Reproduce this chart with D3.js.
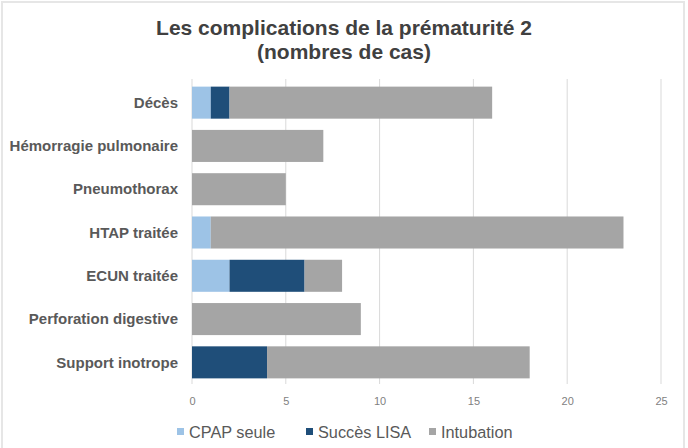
<!DOCTYPE html>
<html>
<head>
<meta charset="utf-8">
<script src="https://cdn.jsdelivr.net/npm/d3@7"></script>
<style>
  body { margin: 0; background: #fff; }
  svg { display: block; font-family: "Liberation Sans", Arial, sans-serif; }
  .title { font-family: "Liberation Sans Narrow", "Arial Narrow", "Liberation Sans", sans-serif; font-weight: bold; font-size: 21px; fill: #404040; }
  .cat { font-weight: bold; font-size: 15px; fill: #595959; }
  .axis--x text { font-size: 11px; fill: #7f7f7f; }
  .legend text { font-size: 16.3px; fill: #595959; }
</style>
</head>
<body>
<svg width="688" height="448"></svg>
<script>
// chart data
var categories = ["Décès", "Hémorragie pulmonaire", "Pneumothorax", "HTAP traitée",
                  "ECUN traitée", "Perforation digestive", "Support inotrope"];
var seriesNames = ["CPAP seule", "Succès LISA", "Intubation"];
var cpapSeule  = [1, 0, 0, 1, 2, 0, 0];
var succesLisa = [1, 0, 0, 0, 4, 0, 4];
var intubation = [14, 7, 5, 22, 2, 9, 14];
var xTicks = [0, 5, 10, 15, 20, 25];
var colors = ["#9dc3e6", "#1f4e79", "#a5a5a5"];

var svg = d3.select("svg");

// outer frame
svg.append("rect")
  .attr("x", 2).attr("y", 2)
  .attr("width", 682).attr("height", 460)
  .attr("fill", "#fff")
  .attr("stroke", "#e6e6e6")
  .attr("stroke-width", 2);

// title
var title = svg.append("text")
  .attr("class", "title")
  .attr("text-anchor", "middle");
title.append("tspan").attr("x", 344).attr("y", 35).text("Les complications de la prématurité 2");
title.append("tspan").attr("x", 344).attr("y", 59).text("(nombres de cas)");

var pArea = [192, 81, 661, 384];

var xScale = d3.scaleLinear()
  .domain([0, 25])
  .range([pArea[0], pArea[2]]);

var yScale = d3.scaleBand()
  .domain(categories)
  .range([pArea[1], pArea[3]])
  .paddingInner(0.26)
  .paddingOuter(0.13);

// gridlines
svg.append("g")
  .selectAll("line")
  .data(xTicks)
  .enter().append("line")
  .attr("x1", d => xScale(d)).attr("x2", d => xScale(d))
  .attr("y1", pArea[1] - 2).attr("y2", pArea[3])
  .attr("stroke", "#d9d9d9")
  .attr("stroke-width", 1);

// stacked bars
var rows = categories.map((c, i) => ({
  cat: c, "CPAP seule": cpapSeule[i], "Succès LISA": succesLisa[i], "Intubation": intubation[i]
}));
var stack = d3.stack().keys(seriesNames)(rows);

svg.append("g")
  .selectAll("g")
  .data(stack)
  .enter().append("g")
  .attr("fill", (d, i) => colors[i])
  .selectAll("rect")
  .data(d => d)
  .enter().append("rect")
  .attr("x", d => xScale(d[0]))
  .attr("y", d => yScale(d.data.cat))
  .attr("width", d => xScale(d[1]) - xScale(d[0]))
  .attr("height", yScale.bandwidth());

// category labels
svg.append("g")
  .selectAll("text")
  .data(categories)
  .enter().append("text")
  .attr("class", "cat")
  .attr("x", 178)
  .attr("y", d => yScale(d) + yScale.bandwidth() / 2)
  .attr("dy", "0.35em")
  .attr("text-anchor", "end")
  .text(d => d);

// x axis
var xAxis = svg.append("g")
  .attr("class", "axis axis--x")
  .attr("transform", `translate(0, ${pArea[3]})`)
  .call(d3.axisBottom(xScale).tickValues(xTicks).tickSize(0).tickPadding(13));
xAxis.select(".domain").remove();

// legend
var legendX = [177, 306, 429];
var legend = svg.append("g").attr("class", "legend");
seriesNames.forEach((name, i) => {
  legend.append("rect")
    .attr("x", legendX[i]).attr("y", 428)
    .attr("width", 7).attr("height", 7)
    .attr("fill", colors[i]);
  legend.append("text")
    .attr("x", legendX[i] + 12).attr("y", 438)
    .text(name);
});
</script>
</body>
</html>
